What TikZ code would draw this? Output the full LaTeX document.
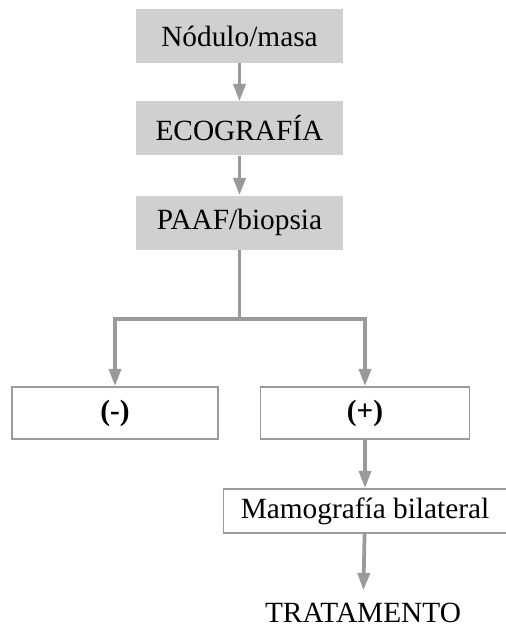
\documentclass[tikz,border=0pt]{standalone}
\usepackage{fontspec}
\setmainfont{Liberation Serif}
\usetikzlibrary{arrows.meta}
\definecolor{boxgray}{HTML}{D0D0D0}
\definecolor{linegray}{HTML}{9A9A9A}
\begin{document}
\begin{tikzpicture}[x=0.75pt,y=-0.75pt,
  txt/.style={font=\fontsize{22}{26}\selectfont, inner sep=0pt},
  graybox/.style={txt, fill=boxgray, minimum width=207*0.75pt, minimum height=54*0.75pt},
  whitebox/.style={txt, draw=linegray, line width=1.3pt, fill=white, minimum height=52*0.75pt},
  arr/.style={draw=linegray, line width=2.8pt, -{Triangle[length=13pt,width=9pt]}},
  trunk/.style={draw=linegray, line width=2.8pt}]
\useasboundingbox (0,0) rectangle (506,631);
\node[graybox] (nod) at (239.5,36) {Nódulo/masa};
\node[graybox] (eco) at (239.5,128.5) {ECOGRAFÍA};
\node[graybox] (paaf) at (239.5,222.5) {PAAF/biopsia};
\node[whitebox, minimum width=206*0.75pt, font=\fontsize{22}{26}\selectfont\bfseries] (neg) at (115,413) {(-)};
\node[whitebox, minimum width=209*0.75pt, font=\fontsize{22}{26}\selectfont\bfseries] (pos) at (365,413) {(+)};
\node[whitebox, minimum width=283*0.75pt, minimum height=44*0.75pt] (mamo) at (365,511) {Mamografía bilateral};
\node[txt, anchor=base] (trat) at (363,622) {TRATAMENTO};
\coordinate (split) at (239.5,319);
\draw[arr] (nod) -- (eco);
\draw[arr] (eco) -- (paaf);
\draw[trunk] (paaf.south) -- (split);
\draw[arr] (split) -| (neg.north);
\draw[arr] (split) -| (pos.north);
\draw[arr] (pos) -- (mamo);
\draw[arr, shorten >=9pt] (mamo) -- (trat);
\end{tikzpicture}
\end{document}
